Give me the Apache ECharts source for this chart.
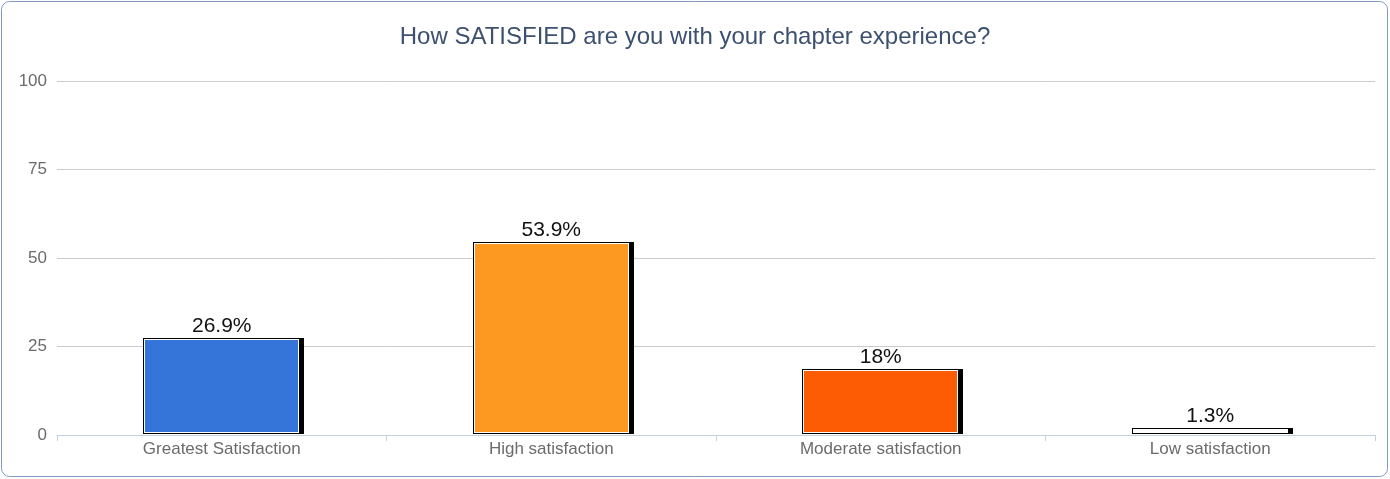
<!DOCTYPE html>
<html>
<head>
<meta charset="utf-8">
<script src="https://cdn.jsdelivr.net/npm/echarts@6/dist/echarts.min.js"></script>
<style>
html,body{margin:0;padding:0;background:#fff;}
#chart{width:1390px;height:479px;}
</style>
</head>
<body>
<div id="chart"></div>
<script>
const categories = ['Greatest Satisfaction', 'High satisfaction', 'Moderate satisfaction', 'Low satisfaction'];
const values = [26.9, 53.9, 18, 1.3];
const barColors = ['#3575d9', '#fd9820', '#fe5b05', '#ffffff'];
const yTicks = [0, 25, 50, 75, 100];

const chart = echarts.init(document.getElementById('chart'), null, {renderer: 'canvas'});
const FONT = '"Liberation Sans", Arial, sans-serif';

chart.setOption({
  animation: false,
  title: {
    text: 'How SATISFIED are you with your chapter experience?',
    left: 'center', top: 20,
    textStyle: {color: '#3d5070', fontSize: 24, fontWeight: 'normal', fontFamily: FONT}
  },
  graphic: [{
    type: 'rect',
    shape: {x: 1.5, y: 1.5, width: 1386, height: 475, r: 8},
    style: {fill: 'none', stroke: '#8099bf', lineWidth: 1},
    silent: true
  }],
  grid: {left: 57, right: 15, top: 81, bottom: 44, containLabel: false},
  xAxis: {
    type: 'category',
    data: categories,
    axisLine: {lineStyle: {color: '#c2d1e2', width: 1}},
    axisTick: {show: true, interval: 0, length: 6, lineStyle: {color: '#c2d1e2'}},
    axisLabel: {color: '#6b6b6b', fontSize: 17, fontFamily: FONT, margin: 6, interval: 0},
    splitLine: {show: false}
  },
  yAxis: {
    type: 'value',
    min: yTicks[0], max: yTicks[yTicks.length - 1], interval: 25,
    axisLine: {show: false},
    axisTick: {show: false},
    axisLabel: {color: '#6b6b6b', fontSize: 17, fontFamily: FONT, margin: 10, verticalAlign: 'middle', padding: [5, 0, 0, 0]},
    splitLine: {lineStyle: {color: '#cccccc', width: 1}}
  },
  series: [{
    type: 'custom',
    data: values.map((v, i) => [i, v]),
    renderItem: function (params, api) {
      const i = api.value(0);
      const v = api.value(1);
      const base = api.coord([i, 0]);
      const top = api.coord([i, v]);
      const bw = api.size([1, 0])[0] * 0.475;
      const x0 = Math.round(base[0] - bw / 2);
      const w = Math.round(bw);
      const y0 = Math.round(top[1]) - 2;
      const yb = Math.round(base[1]) - 1;
      const h = yb - y0;
      return {
        type: 'group',
        children: [
          {type: 'rect', shape: {x: x0, y: y0, width: w + 4, height: h}, style: {fill: '#000'}},
          {type: 'rect', shape: {x: x0 + 1, y: y0 + 1, width: w - 2, height: Math.max(h - 2, 1)}, style: {fill: '#fff'}},
          {type: 'rect', shape: {x: x0 + 2, y: y0 + 2, width: w - 4, height: Math.max(h - 4, 0)}, style: {fill: barColors[i]}},
          {type: 'text', style: {
            text: v + '%', x: base[0], y: y0 - 1,
            align: 'center', verticalAlign: 'bottom',
            fill: '#111', font: '21px ' + FONT
          }}
        ]
      };
    }
  }]
});
</script>
</body>
</html>
